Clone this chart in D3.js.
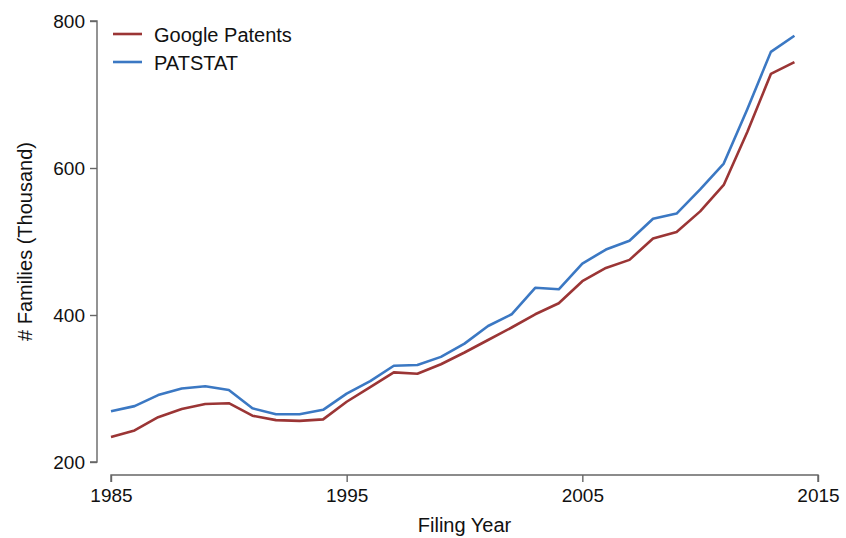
<!DOCTYPE html>
<html><head><meta charset="utf-8">
<script src="https://cdn.jsdelivr.net/npm/d3@7"></script>
<style>body{margin:0;background:#fff}svg{display:block}text{font-family:"Liberation Sans",Arial,Helvetica,sans-serif}</style>
</head><body>
<svg id="c" width="846" height="538"></svg>
<script>
const years = d3.range(1985, 2015);
const googlePatents = [234,243,261,272,279,280,263,257,256,258,282,302,322,320,333,349,366,383,401,416,446,464,475,504,513,541,577,649,728,744];
const patstat = [269,276,291,300,303,298,273,265,265,271,293,310,331,332,343,361,385,401,437,435,470,489,501,531,538,571,606,680,758,780];
const xTicks = [1985,1995,2005,2015];
const yTicks = [200,400,600,800];
const seriesNames = ["Google Patents","PATSTAT"];
const colors = ["#9b3535","#3b78c3"];

const svg = d3.select("#c");
const x = d3.scaleLinear().domain([1985,2015]).range([111,818]);
const y = d3.scaleLinear().domain([200,800]).range([462,21]);

// y axis
const yAxis = svg.append("g").attr("transform","translate(97,0)")
  .call(d3.axisLeft(y).tickValues(yTicks).tickSize(7).tickPadding(5));
// x axis
const xAxis = svg.append("g").attr("transform","translate(0,475)")
  .call(d3.axisBottom(x).tickValues(xTicks).tickFormat(d3.format("d")).tickSize(7).tickPadding(7));
[yAxis,xAxis].forEach(a=>{
  a.select(".domain").attr("stroke","#666").attr("stroke-width",1.4);
  a.selectAll(".tick line").attr("stroke","#666").attr("stroke-width",1.4);
  a.selectAll(".tick text").attr("font-size",19).attr("fill","#111");
});
yAxis.selectAll(".domain").attr("d","M-7,"+y(800)+"H0V"+y(200)+"H-7");
xAxis.selectAll(".domain").attr("d","M"+x(1985)+",7V0H"+x(2015)+"V7");

svg.append("text").attr("x",x(2000)).attr("y",532).attr("text-anchor","middle")
  .attr("font-size",20).attr("fill","#111").text("Filing Year");
svg.append("text").attr("transform","translate(32,"+y(500)+") rotate(-90)").attr("text-anchor","middle")
  .attr("font-size",20).attr("fill","#111").text("# Families (Thousand)");

const line = d3.line().x((d,i)=>x(years[i])).y(d=>y(d));
[googlePatents, patstat].forEach((s,k)=>{
  svg.append("path").attr("d",line(s)).attr("fill","none").attr("stroke",colors[k])
    .attr("stroke-width",2.6).attr("stroke-linejoin","round");
});

// legend
seriesNames.forEach((n,k)=>{
  const ly = 34 + k*28;
  svg.append("line").attr("x1",113).attr("x2",142).attr("y1",ly).attr("y2",ly)
    .attr("stroke",colors[k]).attr("stroke-width",2.6);
  svg.append("text").attr("x",154).attr("y",ly+8).attr("font-size",20).attr("fill","#111").text(n);
});
</script>
</body></html>
